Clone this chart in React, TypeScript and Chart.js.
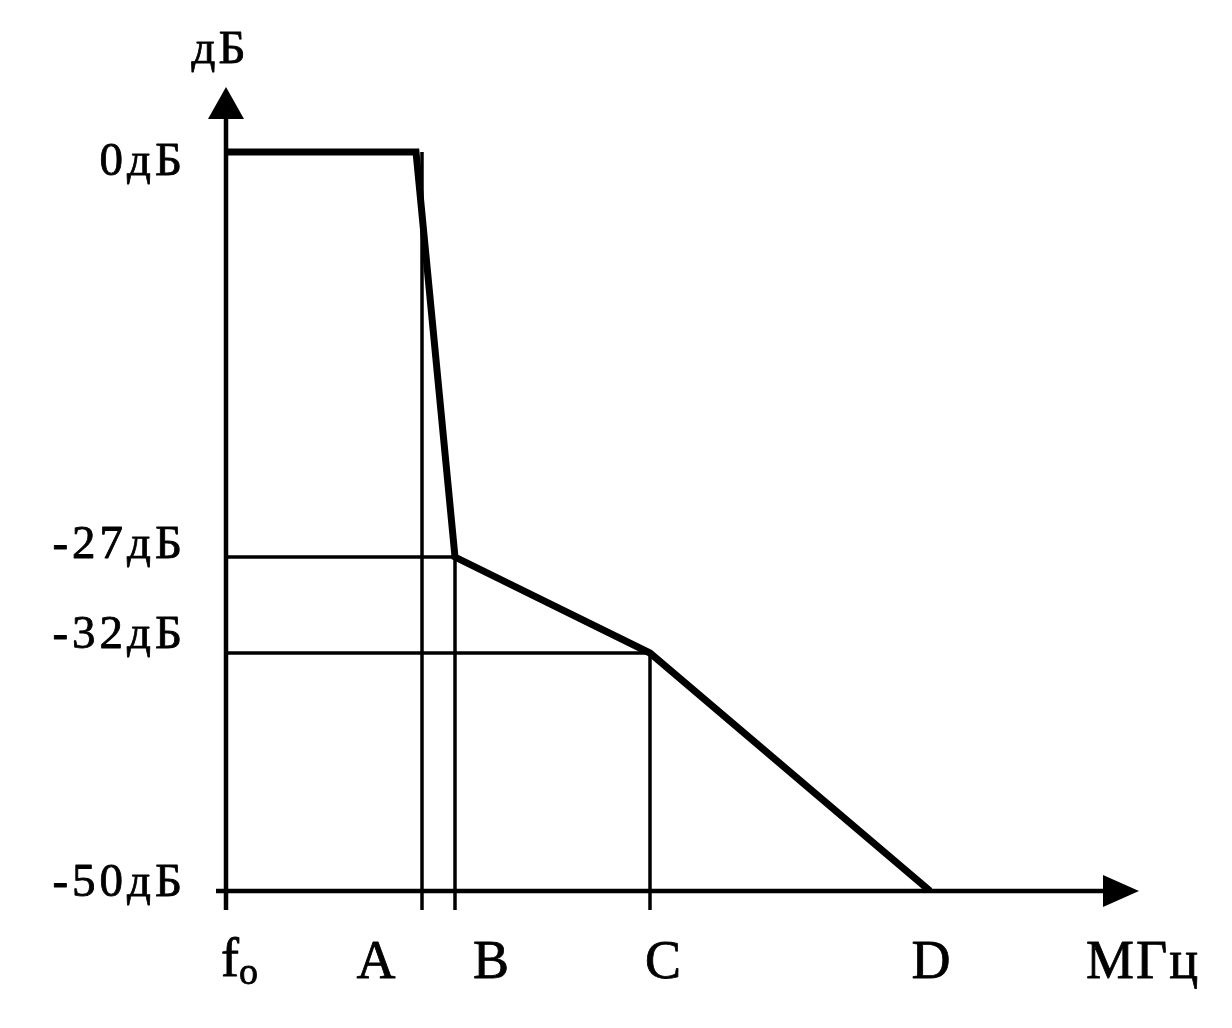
import React, { useEffect, useRef } from "react";
import { Chart, registerables, LinearScale } from "chart.js";

Chart.register(...registerables);

// ---- data ----
const categories = ["f", "A", "B", "C", "D"];
const categoryFreq = [0, 1.96, 2.29, 4.24, 7.04];
const responseFreq = [0, 1.9, 2.29, 4.24, 7.04];
const responseLevel = [0, 0, -27, -32, -50];
const levelTicks = [0, -27, -32, -50];
const levelLabels = ["0дБ", "-27дБ", "-32дБ", "-50дБ"];
const xUnit = "МГц";
const yUnit = "дБ";
const freqMax = 9.13;

// schematic (non-linear) level axis: knots value -> fraction of axis height
const knotValues = [-50, -32, -27, 0, 5];
const knotFractions = [0, 0.296, 0.4154, 0.9192, 1];

function interp(v: number, xs: number[], ys: number[]) {
  if (v <= xs[0]) return ys[0] + (v - xs[0]) * (ys[1] - ys[0]) / (xs[1] - xs[0]);
  for (let i = 1; i < xs.length; i++) {
    if (v <= xs[i]) {
      return ys[i - 1] + (v - xs[i - 1]) * (ys[i] - ys[i - 1]) / (xs[i] - xs[i - 1]);
    }
  }
  const n = xs.length - 1;
  return ys[n] + (v - xs[n]) * (ys[n] - ys[n - 1]) / (xs[n] - xs[n - 1]);
}

class PiecewiseScale extends LinearScale {
  static id = "piecewise";
  static defaults = {};
  getPixelForValue(v: number) {
    return this.getPixelForDecimal(interp(v, knotValues, knotFractions));
  }
  getValueForPixel(p: number) {
    return interp(this.getDecimalForPixel(p), knotFractions, knotValues);
  }
}
Chart.register(PiecewiseScale as any);

const SERIF = '"Times New Roman", "Liberation Serif", Times, serif';

function boldText(ctx: CanvasRenderingContext2D, t: string, x: number, y: number) {
  ctx.fillText(t, x, y);
  ctx.strokeText(t, x, y);
}

const schematicPlugin = {
  id: "schematic",
  beforeDatasetsDraw(chart: any) {
    const ctx = chart.ctx;
    const xs = chart.scales.x;
    const ys = chart.scales.y;
    const x0 = xs.getPixelForValue(0);
    const xEnd = xs.getPixelForValue(freqMax);
    const yBottom = ys.getPixelForValue(-50);
    const yTop = chart.chartArea.top;
    const tickLen = 19;
    ctx.save();
    ctx.strokeStyle = "#000";
    ctx.fillStyle = "#000";
    ctx.lineCap = "butt";

    // thin reference lines
    ctx.lineWidth = 3.5;
    const fA = categoryFreq[1];
    const fB = categoryFreq[2];
    const fC = categoryFreq[3];
    const hLines = [
      [-27, fB],
      [-32, fC],
    ];
    hLines.forEach(([lvl, f]) => {
      const y = ys.getPixelForValue(lvl);
      ctx.beginPath();
      ctx.moveTo(x0, y);
      ctx.lineTo(xs.getPixelForValue(f), y);
      ctx.stroke();
    });
    const vLines = [
      [fA, 0],
      [fB, -27],
      [fC, -32],
    ];
    vLines.forEach(([f, lvl]) => {
      const x = xs.getPixelForValue(f);
      ctx.beginPath();
      ctx.moveTo(x, ys.getPixelForValue(lvl));
      ctx.lineTo(x, yBottom + tickLen);
      ctx.stroke();
    });

    // axes
    ctx.lineWidth = 4.5;
    ctx.beginPath();
    ctx.moveTo(x0, yBottom + tickLen);
    ctx.lineTo(x0, yTop + 30);
    ctx.stroke();
    ctx.beginPath();
    ctx.moveTo(x0 - 10, yBottom);
    ctx.lineTo(xEnd - 34, yBottom);
    ctx.stroke();
    // arrow heads
    ctx.beginPath();
    ctx.moveTo(x0, yTop);
    ctx.lineTo(x0 + 18, yTop + 32);
    ctx.lineTo(x0 - 18, yTop + 32);
    ctx.closePath();
    ctx.fill();
    ctx.beginPath();
    ctx.moveTo(xEnd, yBottom);
    ctx.lineTo(xEnd - 36, yBottom - 16);
    ctx.lineTo(xEnd - 36, yBottom + 16);
    ctx.closePath();
    ctx.fill();

    // text
    ctx.lineWidth = 0.8;
    ctx.lineJoin = "round";

    // y labels
    ctx.font = `47px ${SERIF}`;
    (ctx as any).letterSpacing = "4px";
    ctx.textAlign = "right";
    ctx.textBaseline = "alphabetic";
    const yLabelDy = [23, 1, -5, 5];
    levelTicks.forEach((lvl, i) => {
      boldText(ctx, levelLabels[i], x0 - 40, ys.getPixelForValue(lvl) + yLabelDy[i]);
    });
    ctx.textAlign = "center";
    (ctx as any).letterSpacing = "3px";
    boldText(ctx, yUnit, x0 - 6, yTop - 24);

    // x labels
    (ctx as any).letterSpacing = "2px";
    ctx.font = `54px ${SERIF}`;
    const xLabelDx = [0, -45, 37, 14, 2];
    const baseY = yBottom + 87;
    categories.forEach((c, i) => {
      const x = xs.getPixelForValue(categoryFreq[i]) + xLabelDx[i];
      if (i === 0) {
        ctx.textAlign = "left";
        boldText(ctx, c, x - 5, baseY - 2);
        ctx.font = `38px ${SERIF}`;
        boldText(ctx, "o", x + 13, baseY + 6);
        ctx.font = `54px ${SERIF}`;
        ctx.textAlign = "center";
      } else {
        boldText(ctx, c, x, baseY);
      }
    });
    boldText(ctx, xUnit, xEnd + 4, baseY);
    ctx.restore();
  },
};

export default function App() {
  const ref = useRef<HTMLCanvasElement | null>(null);
  useEffect(() => {
    if (!ref.current) return;
    const chart = new Chart(ref.current, {
      type: "line",
      data: {
        datasets: [
          {
            data: responseFreq.map((f, i) => ({ x: f, y: responseLevel[i] })),
            borderColor: "#000",
            borderWidth: 7,
            pointRadius: 0,
            tension: 0,
            fill: false,
            borderJoinStyle: "miter",
            borderCapStyle: "butt",
          } as any,
        ],
      },
      options: {
        responsive: false,
        animation: false,
        events: [],
        layout: { padding: { left: 226, right: 93, top: 87, bottom: 137 } },
        scales: {
          x: { type: "linear", min: 0, max: freqMax, display: false },
          y: { type: "piecewise" as any, min: -50, max: 5, display: false },
        },
        plugins: {
          legend: { display: false },
          tooltip: { enabled: false },
          title: { display: false },
        },
      },
      plugins: [schematicPlugin],
    });
    return () => chart.destroy();
  }, []);
  return (
    <div style={{ position: "fixed", left: 0, top: 0, width: 1232, height: 1028, background: "#fff" }}>
      <canvas ref={ref} width={1232} height={1028} style={{ display: "block" }} />
    </div>
  );
}
